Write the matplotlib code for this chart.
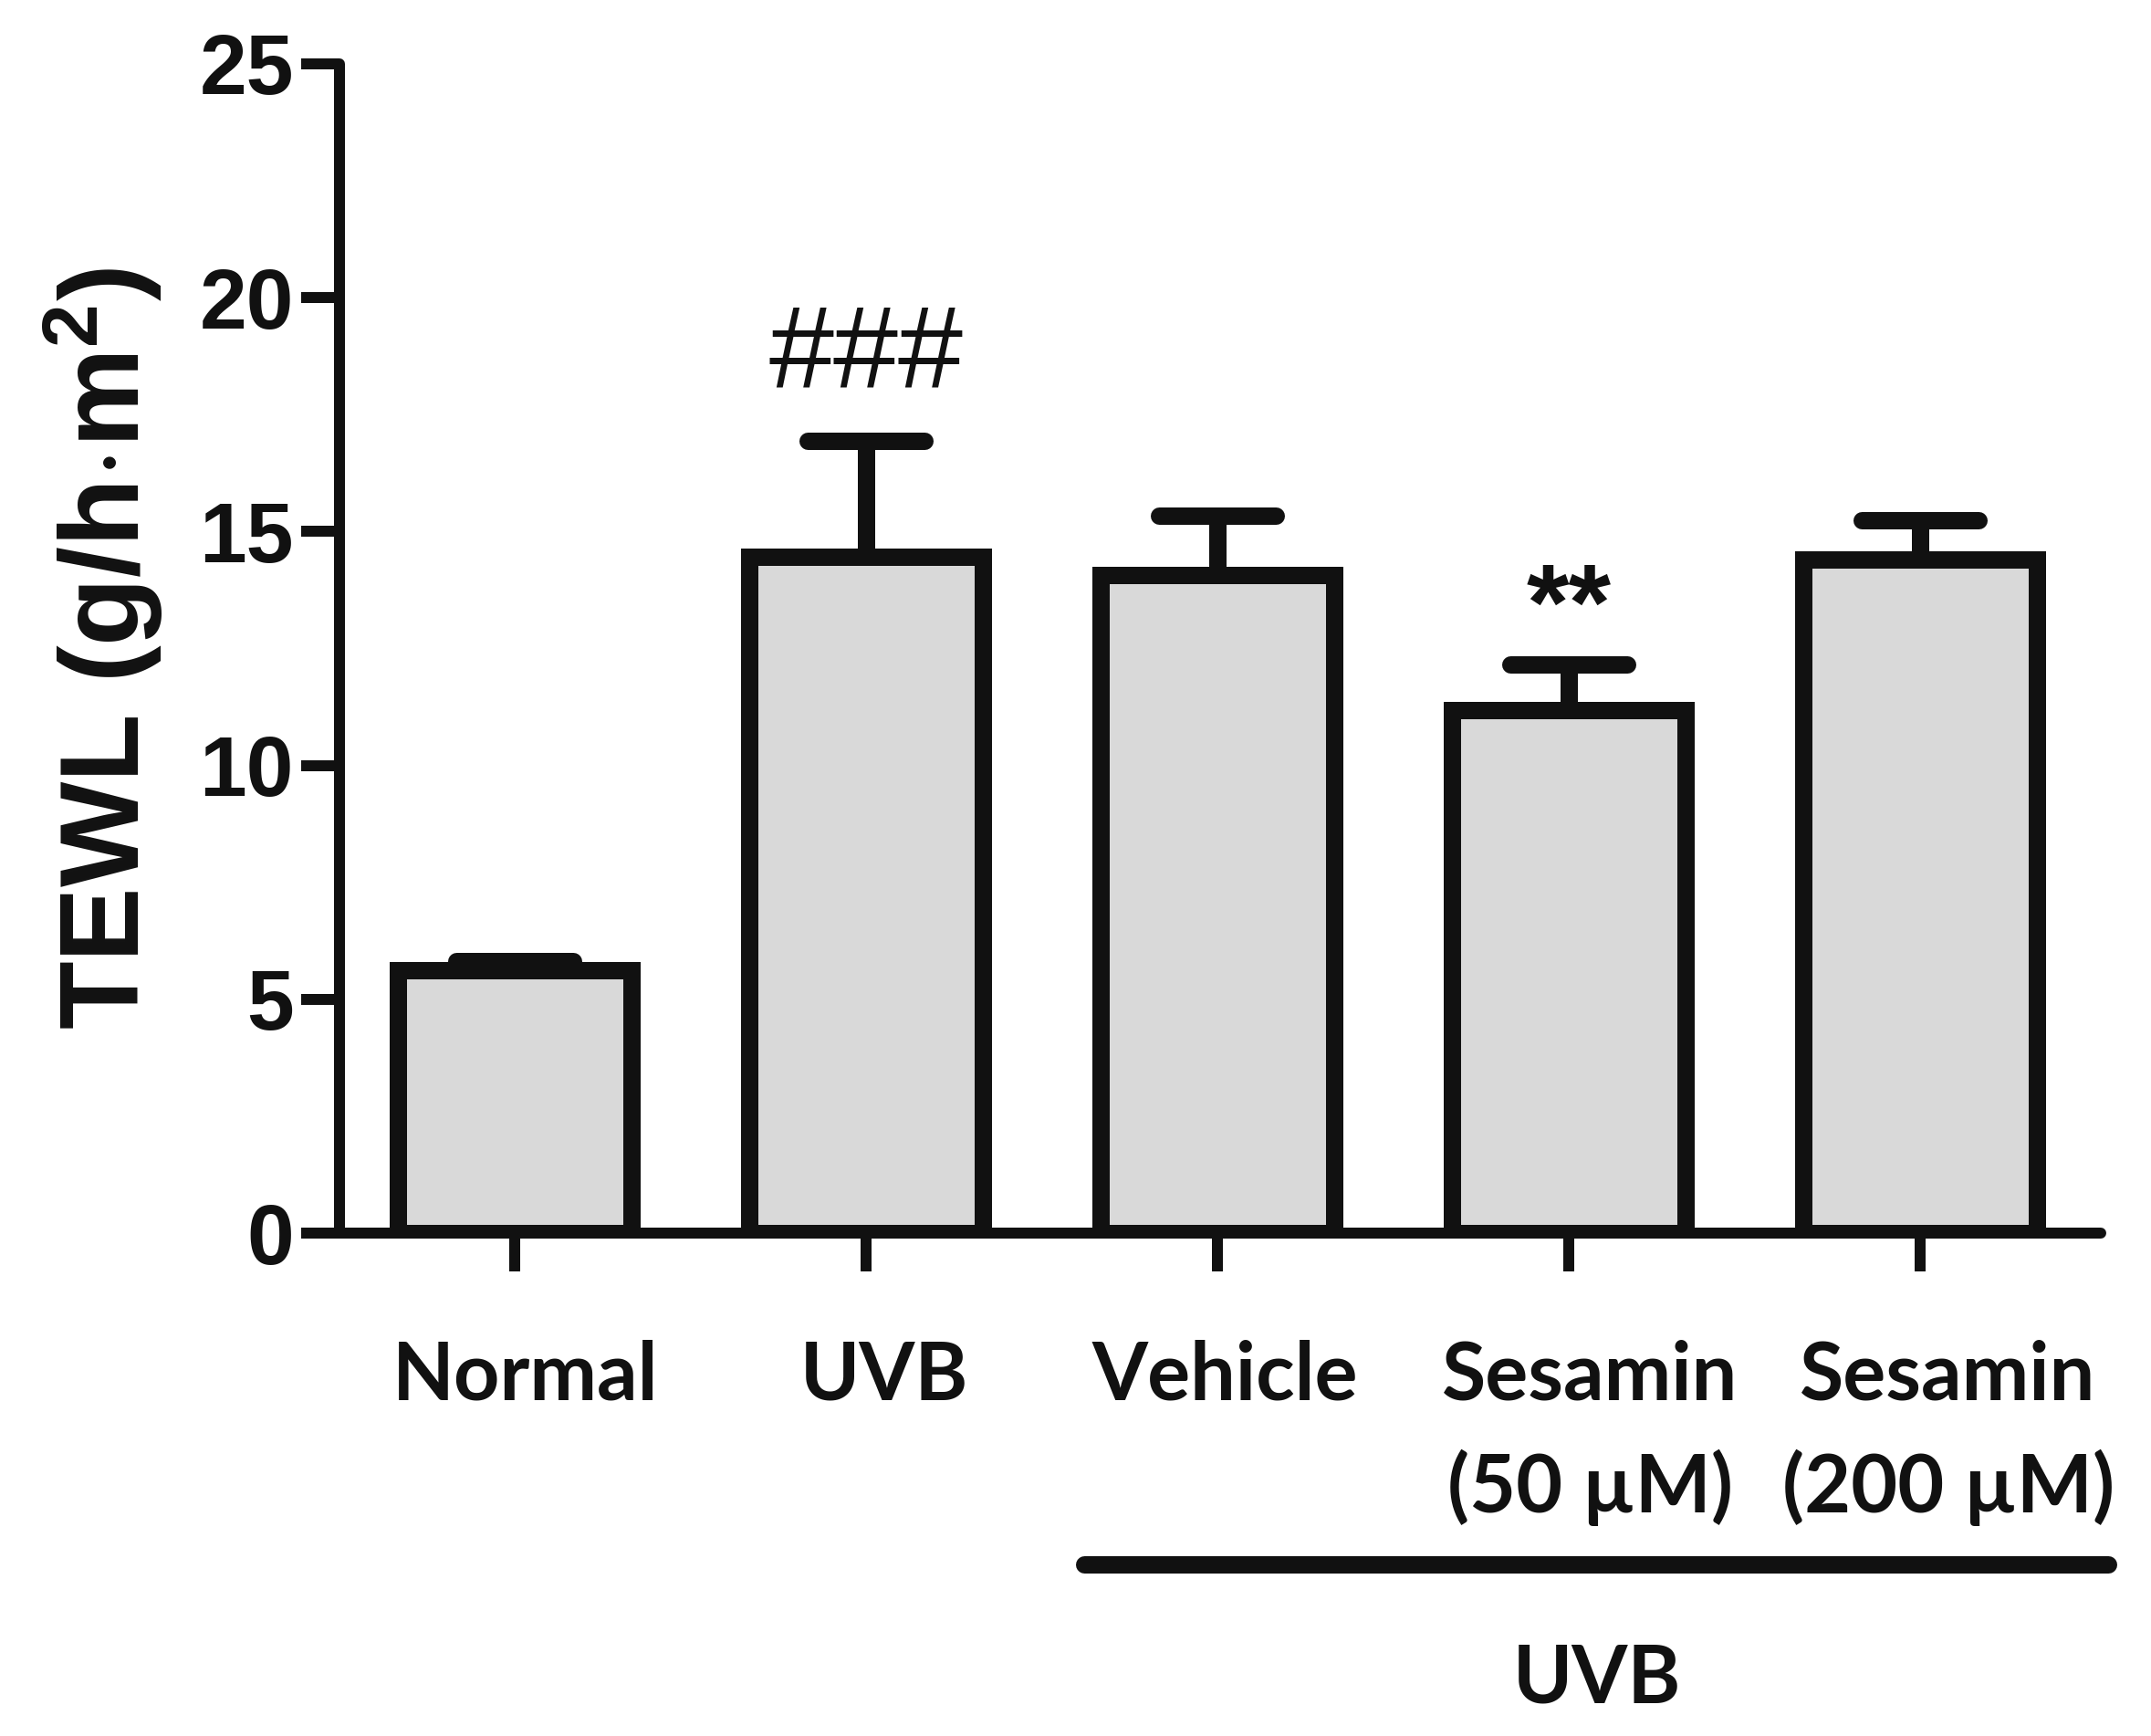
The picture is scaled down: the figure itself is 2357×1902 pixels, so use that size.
import matplotlib
matplotlib.use("Agg")
import matplotlib.pyplot as plt
from matplotlib.lines import Line2D
from matplotlib.markers import MarkerStyle
from matplotlib.transforms import blended_transform_factory
import numpy as np

# ---------------- data ----------------
groups = ["Normal", "UVB", "Vehicle", "Sesamin", "Sesamin"]
groups_line2 = ["", "", "", "(50 \u00b5M)", "(200 \u00b5M)"]
means = [5.62, 14.47, 14.07, 11.18, 14.40]
sem = [0.20, 2.47, 1.27, 0.98, 0.85]
marks = ["", "###", "", "**", ""]
y_ticks = [0, 5, 10, 15, 20, 25]
ylabel = r"TEWL (g/h$\cdot$m$^\mathrm{2}$)"
group_label = "UVB"

# ---------------- style ----------------
W, H, DPI = 2357, 1902, 200
INK = "#111111"
FILL = "#d9d9d9"
px = 72.0 / DPI  # points per pixel

plt.rcParams["mathtext.fontset"] = "custom"
plt.rcParams["mathtext.rm"] = "Liberation Sans:bold"
plt.rcParams["mathtext.bf"] = "Liberation Sans:bold"
plt.rcParams["mathtext.it"] = "Liberation Sans:bold:italic"

fig = plt.figure(figsize=(W / DPI, H / DPI), dpi=DPI)
fig.patch.set_facecolor("white")
ax_left, ax_right, ax_top, ax_bottom = 372, 2302, 70, 1351
ax = fig.add_axes([ax_left / W, 1 - ax_bottom / H,
                   (ax_right - ax_left) / W, (ax_bottom - ax_top) / H])

x = np.arange(len(means))
ax.bar(x, means, width=0.665, color=FILL, edgecolor=INK,
       linewidth=19 * px, zorder=3)
eb = ax.errorbar(x, means, yerr=[np.zeros(len(sem)), sem], fmt="none",
                 ecolor=INK, elinewidth=19 * px, capsize=22.9,
                 capthick=19 * px, zorder=2)
for cl in eb[1]:
    cl.set_marker(MarkerStyle("_", capstyle="round"))

ax.set_xlim(-0.5, 4.515)
ax.set_ylim(0, 25)
ax.set_yticks(y_ticks)
ax.set_yticklabels([str(v) for v in y_ticks])
ax.set_xticks(x)
ax.set_xticklabels([""] * len(x))

for s in ["top", "right"]:
    ax.spines[s].set_visible(False)
for s in ["left", "bottom"]:
    ax.spines[s].set_linewidth(12 * px)
    ax.spines[s].set_color(INK)
    ax.spines[s].set_capstyle("round")

ax.tick_params(axis="both", direction="out", length=42 * px,
               width=12 * px, color=INK)
ax.tick_params(axis="y", pad=8 * px)
for lab in ax.get_yticklabels():
    lab.set_fontfamily(["Liberation Sans", "DejaVu Sans"])
    lab.set_fontweight("bold")
    lab.set_fontsize(33.5)
    lab.set_color(INK)

# significance marks
ax.text(x[1], 18.09, marks[1], ha="center", va="baseline",
        fontsize=46, family=["Liberation Sans", "DejaVu Sans"],
        color=INK, zorder=5)
ax.text(x[3], 12.70, marks[3], ha="center", va="baseline",
        fontsize=43, fontweight="bold",
        family=["Liberation Sans", "DejaVu Sans"], color=INK, zorder=5)

# category labels (two rows)
blend = blended_transform_factory(ax.transData, fig.transFigure)
label_shift = [0.03, 0.05, 0.02, 0.06, 0.08]
lab_font = dict(fontsize=31.7, fontweight="bold",
                family=["Lato", "DejaVu Sans"], color=INK)
for i in range(len(groups)):
    ax.text(x[i] + label_shift[i], 1 - 1533 / H, groups[i], transform=blend,
            ha="center", va="baseline", clip_on=False, **lab_font)
    if groups_line2[i]:
        ax.text(x[i] + label_shift[i], 1 - 1657 / H, groups_line2[i],
                transform=blend, ha="center", va="baseline",
                clip_on=False, **lab_font)

# group bracket + label
yb = 1 - 1714 / H
line = Line2D([1.62, 4.535], [yb, yb], transform=blend, color=INK,
              linewidth=19 * px, solid_capstyle="round", clip_on=False)
ax.add_line(line)
ax.text(3.08, 1 - 1866 / H, group_label, transform=blend, ha="center",
        va="baseline", clip_on=False, **lab_font)

# y label
fig.text(113 / W, 1 - 710 / H, ylabel, rotation=90, ha="center",
         va="center", fontsize=44, fontweight="bold",
         family=["Liberation Sans", "DejaVu Sans"], color=INK)

fig.savefig("out.png", dpi=DPI, facecolor="white")
